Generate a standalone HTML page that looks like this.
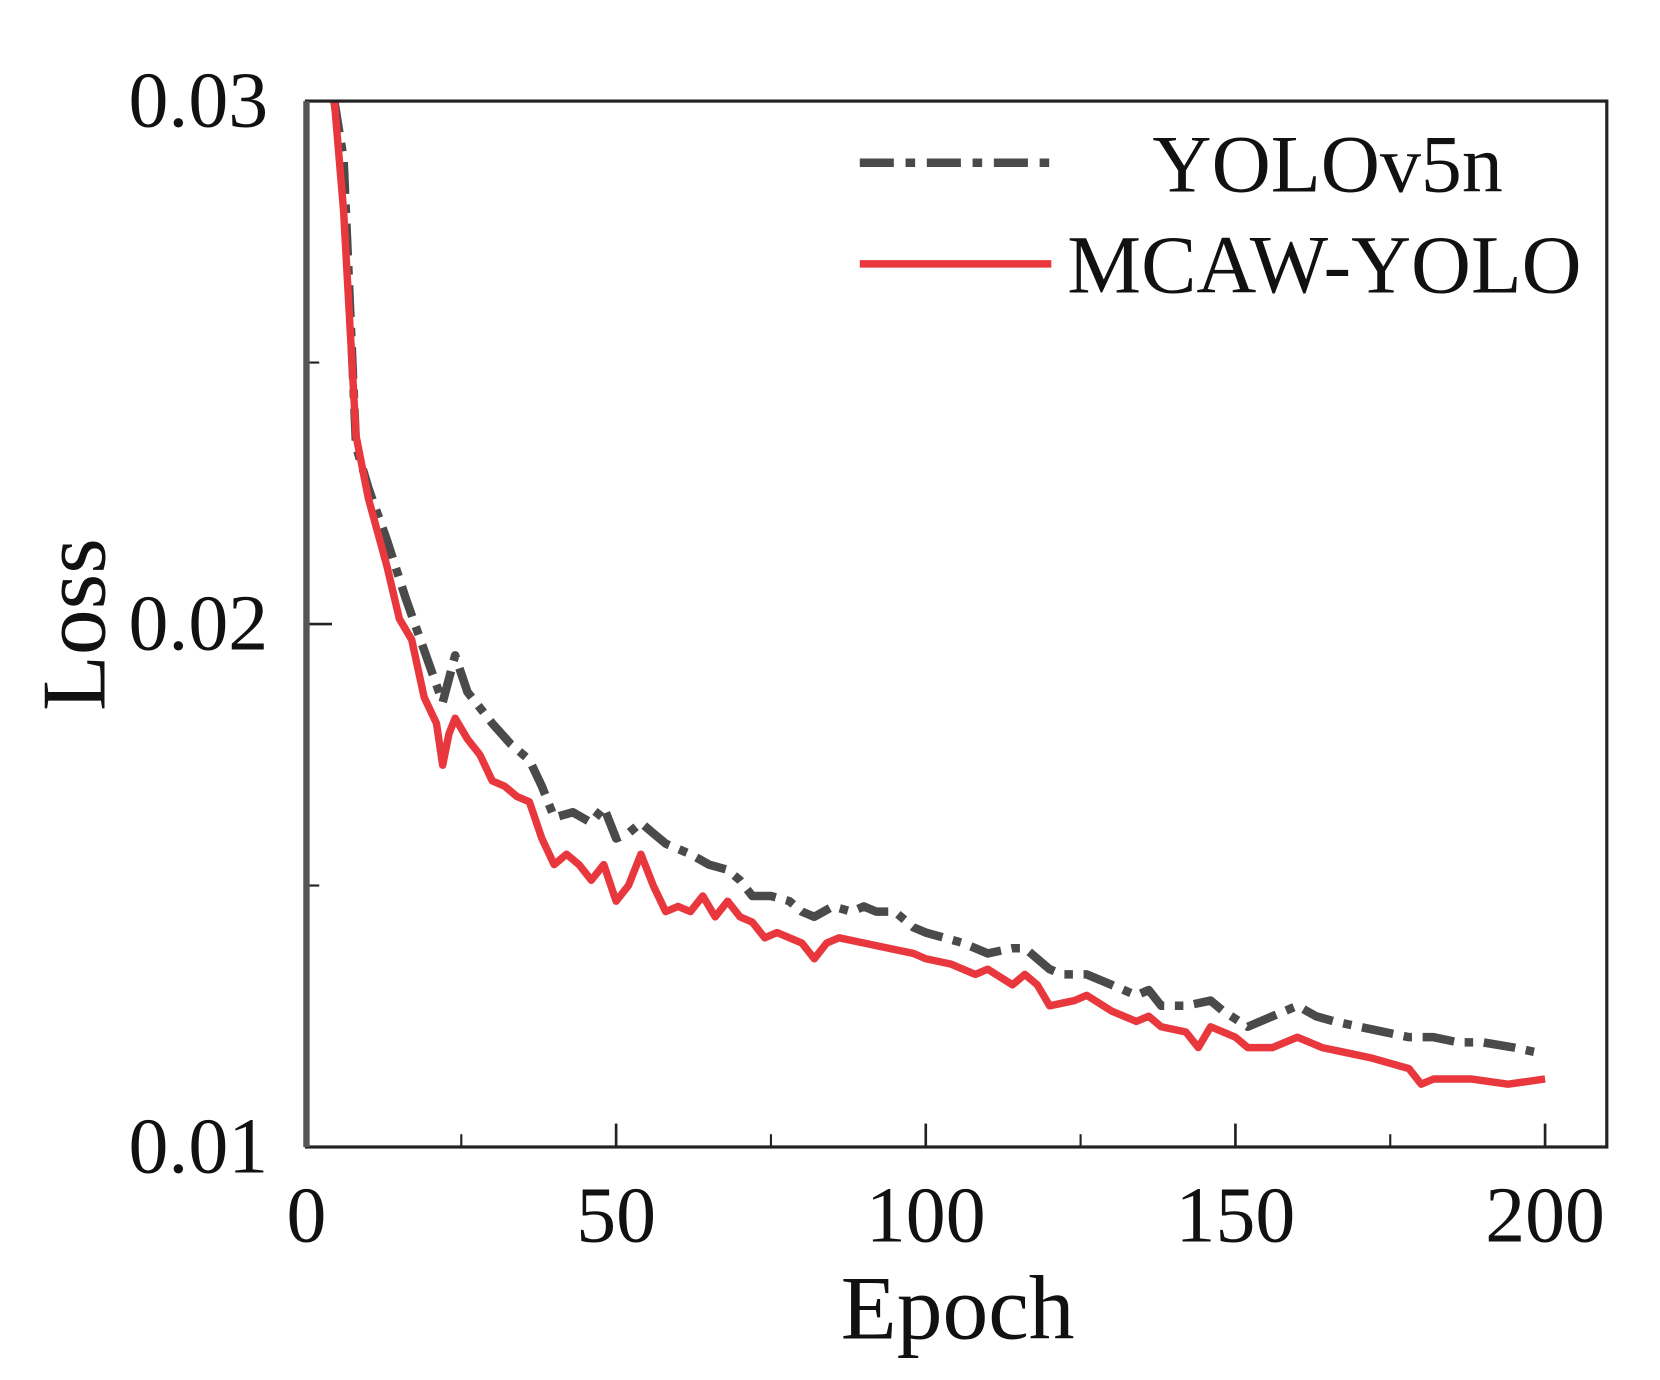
<!DOCTYPE html>
<html><head><meta charset="utf-8"><style>
html,body{margin:0;padding:0;background:#fff;}
svg{display:block;}
text{font-family:"Liberation Serif",serif;fill:#111;}
</style></head><body>
<svg id="chart" width="1660" height="1380" viewBox="0 0 1560 1297" preserveAspectRatio="none" xmlns="http://www.w3.org/2000/svg">
<defs><clipPath id="plotclip"><rect x="288" y="95" width="1222" height="983"/></clipPath></defs>
<g id="axes"></g>
<g id="series" clip-path="url(#plotclip)"></g>
<rect x="288" y="95" width="1222" height="983" fill="none" stroke="#222" stroke-width="3"/>
<line x1="288" y1="95" x2="288" y2="1078" stroke="#555" stroke-width="6"/>
<text x="0" y="0" font-size="86" text-anchor="middle" transform="translate(98,587) rotate(-90)">Loss</text>
<text x="900" y="1258" font-size="86" text-anchor="middle">Epoch</text>
<g>
<line x1="808" y1="153" x2="988" y2="153" stroke="#4a4a4a" stroke-width="8" stroke-dasharray="32,11,9,11"/>
<text x="1083" y="180" font-size="77">YOLOv5n</text>
<line x1="808" y1="248" x2="988" y2="248" stroke="#e8383d" stroke-width="7"/>
<text x="1003" y="275" font-size="78">MCAW-YOLO</text>
</g>
</svg>
<script>
const xTicks=[0,50,100,150,200];
const xMinorTicks=[25,75,125,175];
const yTicks=[0.01,0.02,0.03];
const yTickLabels=["0.01","0.02","0.03"];
const yMinorTicks=[0.015,0.025];
const yoloEpochs=[4.5,6,8,10,13,16,19,22,24,26,28,30,33,36,38,40,43,46,48,50,52,54,56,58,60,62,65,68,70,72,75,78,80,82,85,88,90,92,95,98,100,103,106,110,114,116,118,120,122,126,130,134,136,138,142,146,148,152,156,160,163,166,170,174,178,182,186,190,195,199];
const yoloLoss=[0.0300,0.0289,0.0234,0.0226,0.0216,0.0205,0.0195,0.0185,0.0194,0.0187,0.0184,0.0181,0.0177,0.0174,0.0169,0.0163,0.0164,0.0162,0.0165,0.0159,0.0160,0.0162,0.0160,0.0158,0.0157,0.0156,0.0154,0.0153,0.0151,0.0148,0.0148,0.0147,0.0145,0.0144,0.0146,0.0145,0.0146,0.0145,0.0145,0.0142,0.0141,0.0140,0.0139,0.0137,0.0138,0.0138,0.0136,0.0134,0.0133,0.0133,0.0131,0.0129,0.0130,0.0127,0.0127,0.0128,0.0126,0.0123,0.0125,0.0127,0.0125,0.0124,0.0123,0.0122,0.0121,0.0121,0.0120,0.0120,0.0119,0.0118];
const mcawEpochs=[4.5,6,8,10,13,15,17,19,21,22,23,24,26,28,30,32,34,36,38,40,42,44,46,48,50,52,54,56,58,60,62,64,66,68,70,72,74,76,80,82,84,86,90,94,98,100,104,108,110,114,116,118,120,124,126,130,134,136,138,142,144,146,150,152,156,160,164,168,172,175,178,180,182,188,194,200];
const mcawLoss=[0.0300,0.0279,0.0236,0.0224,0.0211,0.0201,0.0197,0.0186,0.0181,0.0173,0.0179,0.0182,0.0178,0.0175,0.0170,0.0169,0.0167,0.0166,0.0159,0.0154,0.0156,0.0154,0.0151,0.0154,0.0147,0.0150,0.0156,0.0150,0.0145,0.0146,0.0145,0.0148,0.0144,0.0147,0.0144,0.0143,0.0140,0.0141,0.0139,0.0136,0.0139,0.0140,0.0139,0.0138,0.0137,0.0136,0.0135,0.0133,0.0134,0.0131,0.0133,0.0131,0.0127,0.0128,0.0129,0.0126,0.0124,0.0125,0.0123,0.0122,0.0119,0.0123,0.0121,0.0119,0.0119,0.0121,0.0119,0.0118,0.0117,0.0116,0.0115,0.0112,0.0113,0.0113,0.0112,0.0113];

const NS="http://www.w3.org/2000/svg";
const X0=288,X1=1452,Y0=1078,Y1=95;
function xScale(e){return X0+(e-0)/(200-0)*(X1-X0);}
function yScale(v){return Y0-(v-0.01)/(0.03-0.01)*(Y0-Y1);}
function mk(tag,attrs,parent){const el=document.createElementNS(NS,tag);for(const k in attrs)el.setAttribute(k,attrs[k]);parent.appendChild(el);return el;}
const axes=document.getElementById('axes');
xTicks.forEach(t=>{
  const l=mk('line',{x1:xScale(t),x2:xScale(t),y1:Y0,y2:Y0-22,stroke:'#222','stroke-width':2.5},axes);
  
  
  const tx=mk('text',{x:xScale(t),y:1167,'font-size':75,'text-anchor':'middle'},axes);
  tx.textContent=String(t);
  
  
});
xMinorTicks.forEach(t=>{
  const l=mk('line',{x1:xScale(t),x2:xScale(t),y1:Y0,y2:Y0-12,stroke:'#222','stroke-width':2},axes);
  
  
});
yTicks.forEach((t,i)=>{
  const l=mk('line',{x1:X0,x2:X0+24,y1:yScale(t),y2:yScale(t),stroke:'#222','stroke-width':2.5},axes);
  
  
  const tx=mk('text',{x:252,y:yScale(t)+24,'font-size':75,'text-anchor':'end'},axes);
  tx.textContent=yTickLabels[i];
  
  
});
yMinorTicks.forEach(t=>{
  const l=mk('line',{x1:X0,x2:X0+12,y1:yScale(t),y2:yScale(t),stroke:'#222','stroke-width':2},axes);
  
  
});
const series=document.getElementById('series');
function pathD(xs,ys){return xs.map((e,i)=>(i?'L':'M')+xScale(e).toFixed(1)+','+yScale(ys[i]).toFixed(1)).join(' ');}
const p1=mk('path',{d:pathD(yoloEpochs,yoloLoss),fill:'none',stroke:'#4a4a4a','stroke-width':8,'stroke-dasharray':'30,10,8,10','stroke-linejoin':'round'},series);


const p2=mk('path',{d:pathD(mcawEpochs,mcawLoss),fill:'none',stroke:'#e8383d','stroke-width':7,'stroke-linejoin':'round'},series);


</script>
</body></html>
